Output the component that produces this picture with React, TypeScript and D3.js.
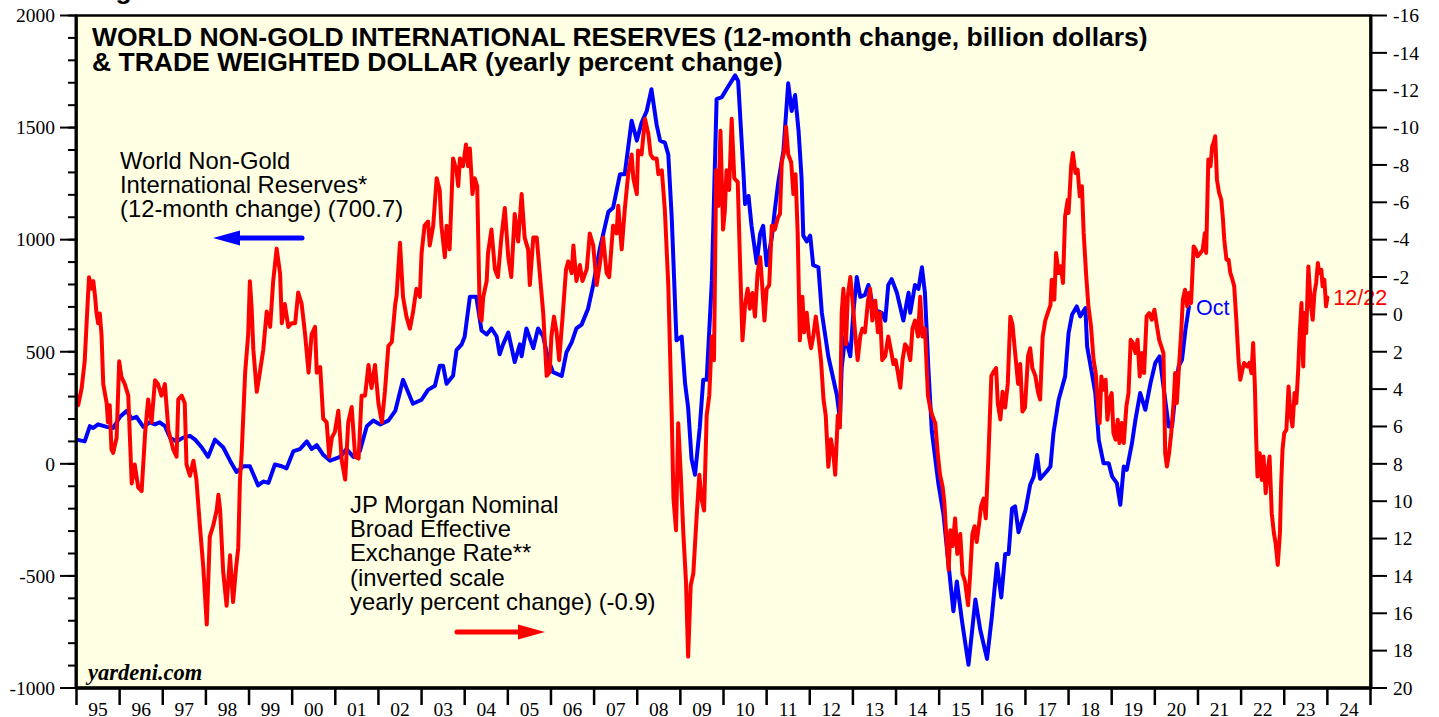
import * as d3 from 'd3';

// World non-gold international reserves, 12-month change (billion $), left axis
const reserves: [number, number][] = [
  [1995.0, 108], [1995.19, 100], [1995.31, 168], [1995.39, 160], [1995.5, 176], [1995.7, 165], [1995.85, 160],
  [1996.01, 210], [1996.16, 236], [1996.28, 202], [1996.39, 210], [1996.55, 165], [1996.7, 185], [1996.82, 176], [1996.93, 185],
  [1997.05, 168], [1997.17, 117], [1997.32, 100], [1997.47, 117], [1997.63, 125], [1997.75, 108], [1997.9, 74],
  [1998.05, 31], [1998.21, 108], [1998.4, 74], [1998.56, 14], [1998.71, -36], [1998.87, -11],
  [1999.02, -11], [1999.21, -96], [1999.33, -79], [1999.45, -85], [1999.6, -3], [1999.76, -11], [1999.87, -20],
  [2000.03, 57], [2000.18, 66], [2000.34, 100], [2000.45, 66], [2000.57, 83], [2000.72, 40], [2000.88, 14],
  [2001.11, 31], [2001.26, 66], [2001.42, 31], [2001.57, 57], [2001.73, 168], [2001.88, 193],
  [2002.04, 176], [2002.23, 193], [2002.39, 236], [2002.57, 375], [2002.8, 268],
  [2003.0, 286], [2003.15, 330], [2003.31, 348], [2003.42, 437], [2003.5, 437], [2003.58, 357], [2003.73, 393], [2003.81, 507], [2003.93, 533],
  [2004.0, 568], [2004.12, 745], [2004.27, 745], [2004.39, 595], [2004.51, 577], [2004.62, 604], [2004.74, 568], [2004.81, 489], [2004.89, 533],
  [2005.01, 586], [2005.16, 454], [2005.28, 533], [2005.32, 480], [2005.43, 604], [2005.59, 516], [2005.7, 604], [2005.82, 568], [2005.94, 462],
  [2006.05, 409], [2006.25, 392], [2006.36, 498], [2006.48, 542], [2006.59, 604], [2006.71, 621], [2006.86, 692], [2006.98, 798],
  [2007.13, 957], [2007.33, 1124], [2007.44, 1142], [2007.6, 1292], [2007.71, 1292], [2007.87, 1530], [2007.99, 1442],
  [2008.1, 1521], [2008.22, 1574], [2008.33, 1671], [2008.45, 1512], [2008.53, 1442], [2008.64, 1433], [2008.72, 1380], [2008.8, 1098], [2008.91, 551],
  [2009.03, 568], [2009.11, 357], [2009.18, 251], [2009.26, 21], [2009.34, -49], [2009.45, 162], [2009.53, 375], [2009.61, 375], [2009.73, 816], [2009.84, 1627], [2009.96, 1636],
  [2010.07, 1671], [2010.27, 1733], [2010.34, 1707], [2010.46, 1309], [2010.5, 1159], [2010.58, 1195], [2010.65, 1062], [2010.77, 895], [2010.85, 1027], [2010.92, 1062],
  [2011.0, 886], [2011.12, 1009], [2011.19, 1133], [2011.27, 1256], [2011.39, 1398], [2011.5, 1698], [2011.58, 1574], [2011.66, 1645], [2011.74, 1486], [2011.81, 1274], [2011.85, 1018], [2011.93, 992],
  [2012.01, 1018], [2012.08, 886], [2012.2, 877], [2012.28, 674], [2012.43, 480], [2012.55, 375], [2012.63, 304], [2012.7, 198], [2012.74, 427], [2012.82, 568], [2012.94, 480],
  [2013.01, 674], [2013.09, 833], [2013.17, 745], [2013.28, 754], [2013.36, 798], [2013.44, 727], [2013.55, 683], [2013.67, 674], [2013.75, 639], [2013.82, 798], [2013.9, 824],
  [2014.02, 763], [2014.17, 639], [2014.29, 763], [2014.33, 674], [2014.44, 798], [2014.52, 780], [2014.6, 877], [2014.67, 763], [2014.75, 427], [2014.83, 145], [2014.98, -85],
  [2015.1, -225], [2015.22, -455], [2015.33, -658], [2015.41, -525], [2015.53, -702], [2015.68, -896], [2015.84, -605], [2015.95, -738],
  [2016.11, -870], [2016.22, -684], [2016.34, -446], [2016.44, -596], [2016.53, -402], [2016.61, -402], [2016.69, -199], [2016.76, -190], [2016.84, -305],
  [2017.0, -208], [2017.11, -93], [2017.19, -58], [2017.27, 39], [2017.34, -67], [2017.5, -32], [2017.58, -12], [2017.65, 137], [2017.77, 286], [2017.92, 390],
  [2018.0, 583], [2018.08, 665], [2018.19, 702], [2018.27, 658], [2018.39, 695], [2018.43, 524], [2018.54, 405], [2018.62, 316], [2018.7, 107], [2018.81, 3], [2018.93, 3],
  [2019.01, -57], [2019.12, -86], [2019.2, -183], [2019.28, -12], [2019.35, -27], [2019.47, 92], [2019.55, 196], [2019.66, 316], [2019.78, 241], [2019.9, 360],
  [2020.01, 450], [2020.11, 479], [2020.2, 345], [2020.32, 167], [2020.4, 167], [2020.48, 316], [2020.55, 434], [2020.63, 464], [2020.71, 598], [2020.79, 701],
];

// JP Morgan nominal broad effective exchange rate, yearly % change, right axis (inverted)
const dollar: [number, number][] = [
  [1995.0, 4.35], [1995.04, 4.86], [1995.12, 3.94], [1995.19, 2.51], [1995.23, 0.67], [1995.29, -1.99], [1995.35, -1.38], [1995.39, -1.78],
  [1995.43, -0.97], [1995.46, -0.15], [1995.5, 0.47], [1995.54, -0.05], [1995.58, 1.08], [1995.62, 3.73], [1995.7, 4.76], [1995.73, 5.78],
  [1995.77, 4.86], [1995.81, 7.21], [1995.85, 7.41], [1995.93, 6.6], [1995.99, 2.51],
  [1996.04, 3.33], [1996.12, 3.73], [1996.2, 4.35], [1996.28, 9.05], [1996.35, 8.03], [1996.43, 9.26], [1996.51, 9.46], [1996.59, 6.39],
  [1996.66, 4.55], [1996.74, 5.78], [1996.82, 3.53], [1996.89, 3.73], [1996.97, 4.35],
  [1997.05, 3.73], [1997.13, 6.19], [1997.24, 7.21], [1997.32, 7.62], [1997.36, 4.55], [1997.44, 4.35], [1997.51, 4.76], [1997.55, 8.03],
  [1997.63, 8.64], [1997.71, 7.83], [1997.78, 8.84], [1997.86, 11.3], [1997.94, 13.55],
  [1998.02, 16.6], [1998.09, 11.9], [1998.17, 11.3], [1998.25, 10.48], [1998.29, 9.66], [1998.33, 10.48], [1998.4, 13.75], [1998.48, 15.6],
  [1998.56, 12.9], [1998.63, 15.4], [1998.7, 13.55], [1998.75, 12.5], [1998.79, 8.84], [1998.83, 7.41], [1998.91, 3.12], [1998.98, 1.08],
  [1999.02, -1.78], [1999.06, -0.36], [1999.1, 1.89], [1999.18, 4.14], [1999.25, 3.12], [1999.33, 1.89], [1999.41, -0.15], [1999.49, 0.67],
  [1999.56, -1.78], [1999.64, -3.52], [1999.72, -2.19], [1999.76, 0.47], [1999.83, -0.56], [1999.91, 0.67], [1999.99, 0.47],
  [2000.07, 0.47], [2000.14, -1.17], [2000.22, -0.56], [2000.3, 1.08], [2000.38, 3.12], [2000.45, 1.08], [2000.53, 0.67], [2000.57, 3.12],
  [2000.65, 2.82], [2000.72, 5.58], [2000.8, 5.78], [2000.86, 7.62], [2000.92, 6.6], [2000.99, 6.29],
  [2001.07, 5.16], [2001.15, 7.83], [2001.23, 8.84], [2001.3, 5.78], [2001.38, 4.96], [2001.46, 7.62], [2001.54, 7.72], [2001.61, 4.35],
  [2001.69, 4.35], [2001.77, 2.71], [2001.84, 3.94], [2001.92, 2.71], [2002.0, 4.76],
  [2002.08, 5.78], [2002.15, 4.14], [2002.23, 1.69], [2002.31, 1.48], [2002.39, -0.56], [2002.42, -0.97], [2002.5, -3.83], [2002.57, -0.94],
  [2002.65, 0.12], [2002.73, 0.76], [2002.8, -0.09], [2002.88, -1.37], [2002.96, -0.94],
  [2003.0, -3.27], [2003.07, -4.75], [2003.15, -4.97], [2003.19, -3.69], [2003.27, -4.75], [2003.35, -7.29], [2003.42, -6.66], [2003.46, -4.75],
  [2003.54, -3.06], [2003.58, -4.75], [2003.65, -3.48], [2003.73, -8.35], [2003.81, -7.71], [2003.85, -6.87], [2003.89, -8.35], [2003.96, -7.93],
  [2004.03, -9.09], [2004.08, -7.93], [2004.12, -8.88], [2004.18, -6.44], [2004.23, -7.29], [2004.29, -6.87], [2004.35, 0.12], [2004.39, 0.33],
  [2004.43, -0.94], [2004.51, -1.79], [2004.54, -3.27], [2004.62, -4.54], [2004.7, -2.42], [2004.77, -2.0], [2004.85, -4.11], [2004.93, -5.7],
  [2005.01, -3.06], [2005.08, -2.0], [2005.16, -5.38], [2005.24, -3.9], [2005.32, -6.44], [2005.39, -4.11], [2005.47, -3.48], [2005.51, -1.57],
  [2005.59, -4.11], [2005.67, -4.11], [2005.74, -2.21], [2005.82, -0.09], [2005.9, 3.29], [2005.97, 3.08],
  [2006.01, 1.18], [2006.07, 0.12], [2006.13, 0.96], [2006.19, 2.45], [2006.27, 0.12], [2006.35, -2.42], [2006.4, -2.84], [2006.48, -2.21],
  [2006.52, -3.69], [2006.59, -1.79], [2006.67, -2.64], [2006.73, -1.79], [2006.83, -2.42], [2006.9, -4.33], [2006.98, -3.69],
  [2007.06, -1.57], [2007.13, -2.64], [2007.21, -4.11], [2007.29, -2.21], [2007.35, -2.0], [2007.44, -4.75], [2007.52, -4.33], [2007.56, -5.81],
  [2007.64, -3.48], [2007.71, -5.6], [2007.79, -7.5], [2007.87, -8.56], [2007.91, -7.29], [2007.99, -6.44],
  [2008.02, -8.77], [2008.1, -8.56], [2008.18, -10.47], [2008.26, -9.62], [2008.31, -8.56], [2008.37, -8.35], [2008.45, -8.35], [2008.49, -7.5],
  [2008.57, -7.71], [2008.64, -5.6], [2008.72, -1.57], [2008.8, 5.41], [2008.84, 9.86], [2008.9, 11.55], [2008.95, 5.83],
  [2009.01, 8.59], [2009.07, 11.76], [2009.13, 14.3], [2009.18, 18.32], [2009.24, 14.5], [2009.3, 13.88], [2009.38, 10.7], [2009.44, 8.59],
  [2009.49, 9.86], [2009.55, 10.5], [2009.61, 5.41], [2009.67, 4.35], [2009.73, 1.18], [2009.78, 2.45], [2009.83, -7.71], [2009.88, -5.81],
  [2009.93, -9.83], [2009.99, -4.54],
  [2010.03, -5.5], [2010.07, -7.71], [2010.13, -6.66], [2010.19, -10.47], [2010.25, -7.29], [2010.33, -7.08], [2010.38, -3.06], [2010.44, 1.39],
  [2010.5, -0.51], [2010.56, -1.37], [2010.61, -0.3], [2010.67, -1.15], [2010.73, 0.12], [2010.79, -2.21], [2010.85, -3.06], [2010.89, -1.79],
  [2010.95, 0.33], [2011.0, -1.37], [2011.06, -1.57], [2011.12, -4.75], [2011.19, -4.54], [2011.26, -5.17], [2011.31, -5.38], [2011.35, -8.14],
  [2011.41, -8.77], [2011.45, -10.04], [2011.5, -8.56], [2011.57, -8.14], [2011.62, -6.44], [2011.67, -7.5], [2011.72, -4.33], [2011.77, 1.39],
  [2011.83, -0.94], [2011.87, 0.96], [2011.93, -0.09], [2011.98, 1.18],
  [2012.03, 1.81], [2012.08, 1.18], [2012.14, 0.12], [2012.2, 1.18], [2012.26, 2.45], [2012.32, 4.57], [2012.37, 5.41], [2012.43, 8.16],
  [2012.49, 6.68], [2012.55, 7.53], [2012.59, 8.59], [2012.65, 5.41], [2012.7, 6.05], [2012.74, -0.09], [2012.78, -1.37], [2012.84, 1.6],
  [2012.88, -0.94], [2012.94, -2.0],
  [2013.0, -0.51], [2013.05, 0.96], [2013.11, 2.45], [2013.17, 1.18], [2013.22, 0.76], [2013.28, 0.96], [2013.35, -0.73], [2013.4, -1.37],
  [2013.45, 0.33], [2013.52, -0.73], [2013.58, 0.96], [2013.63, -0.09], [2013.68, 2.45], [2013.75, 2.23], [2013.82, 1.18], [2013.89, 2.02],
  [2013.94, 2.66], [2013.99, 2.45],
  [2014.04, 3.08], [2014.1, 3.93], [2014.15, 2.45], [2014.21, 1.6], [2014.27, 1.81], [2014.33, 2.45], [2014.38, 0.76], [2014.44, 0.33],
  [2014.51, 1.18], [2014.56, -0.94], [2014.61, 1.18], [2014.67, 0.76], [2014.74, 4.35], [2014.79, 4.99], [2014.84, 5.41], [2014.91, 5.83],
  [2014.97, 7.53], [2015.02, 8.59], [2015.08, 9.22], [2015.12, 10.07], [2015.18, 12.4], [2015.22, 13.67], [2015.26, 11.55], [2015.31, 12.4],
  [2015.37, 10.92], [2015.42, 12.82], [2015.49, 11.76], [2015.54, 13.88], [2015.6, 14.3], [2015.67, 15.57], [2015.72, 13.88], [2015.77, 11.76],
  [2015.82, 11.34], [2015.87, 12.19], [2015.93, 11.13], [2015.97, 10.28],
  [2016.03, 9.86], [2016.08, 10.92], [2016.14, 7.74], [2016.21, 3.29], [2016.26, 3.08], [2016.32, 2.87], [2016.36, 4.78], [2016.42, 5.62],
  [2016.47, 4.14], [2016.53, 4.99], [2016.59, 3.72], [2016.65, 0.12], [2016.7, 0.54], [2016.76, 2.02], [2016.83, 3.72], [2016.88, 2.66],
  [2016.93, 5.2], [2016.99, 4.99],
  [2017.06, 2.23], [2017.11, 1.81], [2017.16, 2.87], [2017.23, 3.29], [2017.29, 4.14], [2017.34, 4.56], [2017.4, 1.18], [2017.46, 0.33],
  [2017.52, -0.09], [2017.58, -0.5], [2017.61, -1.86], [2017.67, -0.79], [2017.71, -3.29], [2017.77, -2.22], [2017.82, -2.57], [2017.87, -1.68],
  [2017.92, -5.25], [2017.98, -6.14],
  [2018.0, -5.43], [2018.06, -7.93], [2018.1, -8.64], [2018.16, -7.57], [2018.21, -7.75], [2018.26, -6.32], [2018.31, -6.86], [2018.35, -4.36],
  [2018.41, -2.04], [2018.46, -0.43], [2018.52, 0.64], [2018.58, 2.43], [2018.63, 3.14], [2018.67, 4.57], [2018.72, 5.82], [2018.76, 3.32],
  [2018.81, 4.03], [2018.86, 3.5], [2018.9, 5.64], [2018.95, 4.57],
  [2019.0, 4.21], [2019.04, 6.35], [2019.09, 6.71], [2019.14, 5.64], [2019.18, 6.89], [2019.23, 5.82], [2019.28, 6.89], [2019.34, 4.93],
  [2019.39, 4.21], [2019.44, 1.36], [2019.49, 1.53], [2019.55, 2.07], [2019.6, 1.36], [2019.65, 3.32], [2019.7, 2.07], [2019.75, 3.14],
  [2019.81, 0.1], [2019.87, -0.07], [2019.93, 0.29], [2019.99, -0.25],
  [2020.05, 0.64], [2020.1, 1.36], [2020.15, 1.71], [2020.2, 2.07], [2020.24, 7.43], [2020.28, 8.14], [2020.33, 7.43], [2020.38, 6.35],
  [2020.44, 4.57], [2020.47, 3.14], [2020.51, 4.75], [2020.56, 2.79], [2020.61, 1.0], [2020.65, -0.79], [2020.7, -1.32], [2020.75, -0.43],
  [2020.79, -1.15], [2020.84, -0.61], [2020.9, -3.64], [2020.95, -3.46], [2020.99, -3.11],
  [2021.06, -3.29], [2021.11, -3.46], [2021.16, -4.36], [2021.19, -3.29], [2021.24, -8.29], [2021.29, -7.93], [2021.33, -9.0], [2021.36, -9.18],
  [2021.4, -9.54], [2021.44, -7.21], [2021.49, -6.5], [2021.54, -6.14], [2021.58, -5.07], [2021.61, -4.0], [2021.66, -2.93], [2021.71, -2.93],
  [2021.75, -2.22], [2021.8, -1.86], [2021.84, -1.5], [2021.89, 0.29], [2021.94, 2.43], [2021.98, 3.5],
  [2022.03, 2.96], [2022.07, 2.6], [2022.14, 2.79], [2022.19, 2.6], [2022.24, 3.14], [2022.28, 1.53], [2022.32, 3.86], [2022.35, 6.71],
  [2022.38, 8.68], [2022.43, 7.43], [2022.48, 8.86], [2022.52, 7.61], [2022.57, 9.57], [2022.62, 8.32], [2022.66, 7.61], [2022.71, 10.64],
  [2022.76, 11.71], [2022.8, 12.25], [2022.85, 13.41], [2022.9, 11.71], [2022.93, 9.03], [2022.96, 7.25],
  [2023.0, 6.35], [2023.05, 6.18], [2023.1, 3.86], [2023.14, 5.28], [2023.19, 6.0], [2023.24, 4.21], [2023.28, 4.75], [2023.32, 3.14],
  [2023.36, 1.0], [2023.4, -0.61], [2023.44, 2.79], [2023.47, -0.07], [2023.51, 1.0], [2023.56, -2.57], [2023.59, -1.5], [2023.62, -0.43],
  [2023.66, 0.29], [2023.7, -1.15], [2023.74, -1.68], [2023.78, -2.75], [2023.81, -2.22], [2023.86, -2.39], [2023.89, -1.5], [2023.93, -1.86],
  [2023.97, -0.43], [2024.0, -0.9],
];

const years = d3.range(1995, 2025);
const leftTicks = d3.range(-1000, 2001, 500);
const leftMinor = d3.range(-1000, 2001, 100);
const rightTicks = d3.range(-16, 21, 2);

const titleLines = [
  'WORLD NON-GOLD INTERNATIONAL RESERVES (12-month change, billion dollars)',
  '& TRADE WEIGHTED DOLLAR (yearly percent change)',
];
const reservesNote = ['World Non-Gold', 'International Reserves*', '(12-month change) (700.7)'];
const dollarNote = [
  'JP Morgan Nominal',
  'Broad Effective',
  'Exchange Rate**',
  '(inverted scale',
  'yearly percent change) (-0.9)',
];

const SANS = "'Liberation Sans', Arial, Helvetica, sans-serif";
const SERIF = "'Liberation Serif', 'Times New Roman', Times, serif";
const BLUE = '#0000ff';
const RED = '#ff0000';

export default function App() {
  const width = 1439;
  const height = 717;
  const left = 76.5;
  const right = 1370.5;
  const top = 15.5;
  const bottom = 688;

  const x = d3.scaleLinear().domain([1995, 2025]).range([left, right]);
  const yL = d3.scaleLinear().domain([-1000, 2000]).range([bottom, top]);
  const yR = d3.scaleLinear().domain([20, -16]).range([bottom, top]);

  const blueLine = d3.line<[number, number]>()
    .x((d) => x(d[0]))
    .y((d) => yL(d[1]));
  const redLine = d3.line<[number, number]>()
    .x((d) => x(d[0]))
    .y((d) => yR(d[1]));

  const lastBlue = reserves[reserves.length - 1];
  const lastRed = dollar[dollar.length - 1];

  return (
    <>
      <style>{'body{margin:0;background:#fff;}'}</style>
      <svg width={width} height={height} style={{ display: 'block' }}>
        <defs>
          <clipPath id="plot-clip">
            <rect x={left} y={top} width={right - left} height={bottom - top} />
          </clipPath>
        </defs>

        <rect x={left} y={top} width={right - left} height={bottom - top} fill="#ffffe4" />

        <text x={92} y={-1} fontFamily={SANS} fontWeight="bold" fontSize={26.5}>Figure</text>

        {titleLines.map((line, i) => (
          <text key={line} x={92} y={46 + i * 25} fontFamily={SANS} fontWeight="bold" fontSize={26.5} fill="#000">
            {line}
          </text>
        ))}

        {reservesNote.map((line, i) => (
          <text key={line} x={120} y={169 + i * 24} fontFamily={SANS} fontSize={23.8} fill="#000">{line}</text>
        ))}
        <g>
          <line x1={302} y1={238} x2={235} y2={238} stroke={BLUE} strokeWidth={5} strokeLinecap="round" />
          <path d="M213,238 L240,230.5 L240,245.5 Z" fill={BLUE} />
        </g>

        {dollarNote.map((line, i) => (
          <text key={line} x={350} y={513 + i * 24.2} fontFamily={SANS} fontSize={23.8} fill="#000">{line}</text>
        ))}
        <g>
          <line x1={457} y1={632} x2={522} y2={632} stroke={RED} strokeWidth={5} strokeLinecap="round" />
          <path d="M545,632 L518,624.5 L518,639.5 Z" fill={RED} />
        </g>

        <g clipPath="url(#plot-clip)" fill="none" strokeLinejoin="round" strokeLinecap="round">
          <path d={blueLine(reserves) ?? ''} stroke={BLUE} strokeWidth={4} />
          <path d={redLine(dollar) ?? ''} stroke={RED} strokeWidth={4} />
        </g>

        <text x={x(lastBlue[0]) + 7} y={315} fontFamily={SANS} fontSize={21.5} fill={BLUE}>Oct</text>
        <text x={x(lastRed[0]) + 6} y={305} fontFamily={SANS} fontSize={21.5} fill={RED}>12/22</text>

        <text x={88} y={680} fontFamily={SERIF} fontWeight="bold" fontStyle="italic" fontSize={22.5}>yardeni.com</text>

        {/* frame */}
        <rect x={left} y={top} width={right - left} height={bottom - top} fill="none" stroke="#000" strokeWidth={2.5} />
        <line x1={left} x2={right + 1} y1={bottom} y2={bottom} stroke="#000" strokeWidth={3.5} />
        <line x1={left - 0.5} x2={left - 0.5} y1={top} y2={bottom} stroke="#000" strokeWidth={3} />
        <line x1={right + 0.5} x2={right + 0.5} y1={top} y2={bottom} stroke="#000" strokeWidth={3} />

        {/* left axis */}
        {leftMinor.map((v) => (
          <line key={`m${v}`} x1={68} x2={left} y1={yL(v)} y2={yL(v)} stroke="#000" strokeWidth={2} />
        ))}
        {leftTicks.map((v) => (
          <g key={`l${v}`}>
            <line x1={60} x2={left} y1={yL(v)} y2={yL(v)} stroke="#000" strokeWidth={2} />
            <text x={55} y={yL(v)} dy="0.35em" textAnchor="end" fontFamily={SERIF} fontSize={19.5} fill="#000">{v}</text>
          </g>
        ))}

        {/* right axis */}
        {rightTicks.map((v) => (
          <g key={`r${v}`}>
            <line x1={right} x2={1387} y1={yR(v)} y2={yR(v)} stroke="#000" strokeWidth={2} />
            <text x={1393} y={yR(v)} dy="0.35em" fontFamily={SERIF} fontSize={19.5} fill="#000">{v}</text>
          </g>
        ))}

        {/* bottom axis */}
        {d3.range(1995, 2026).map((yr) => (
          <line key={`t${yr}`} x1={x(yr)} x2={x(yr)} y1={bottom} y2={705} stroke="#000" strokeWidth={2.5} />
        ))}
        {years.map((yr) => (
          <text key={`y${yr}`} x={x(yr + 0.5)} y={716} textAnchor="middle" fontFamily={SERIF} fontSize={19.5} fill="#000">
            {String(yr).slice(2)}
          </text>
        ))}
      </svg>
    </>
  );
}
